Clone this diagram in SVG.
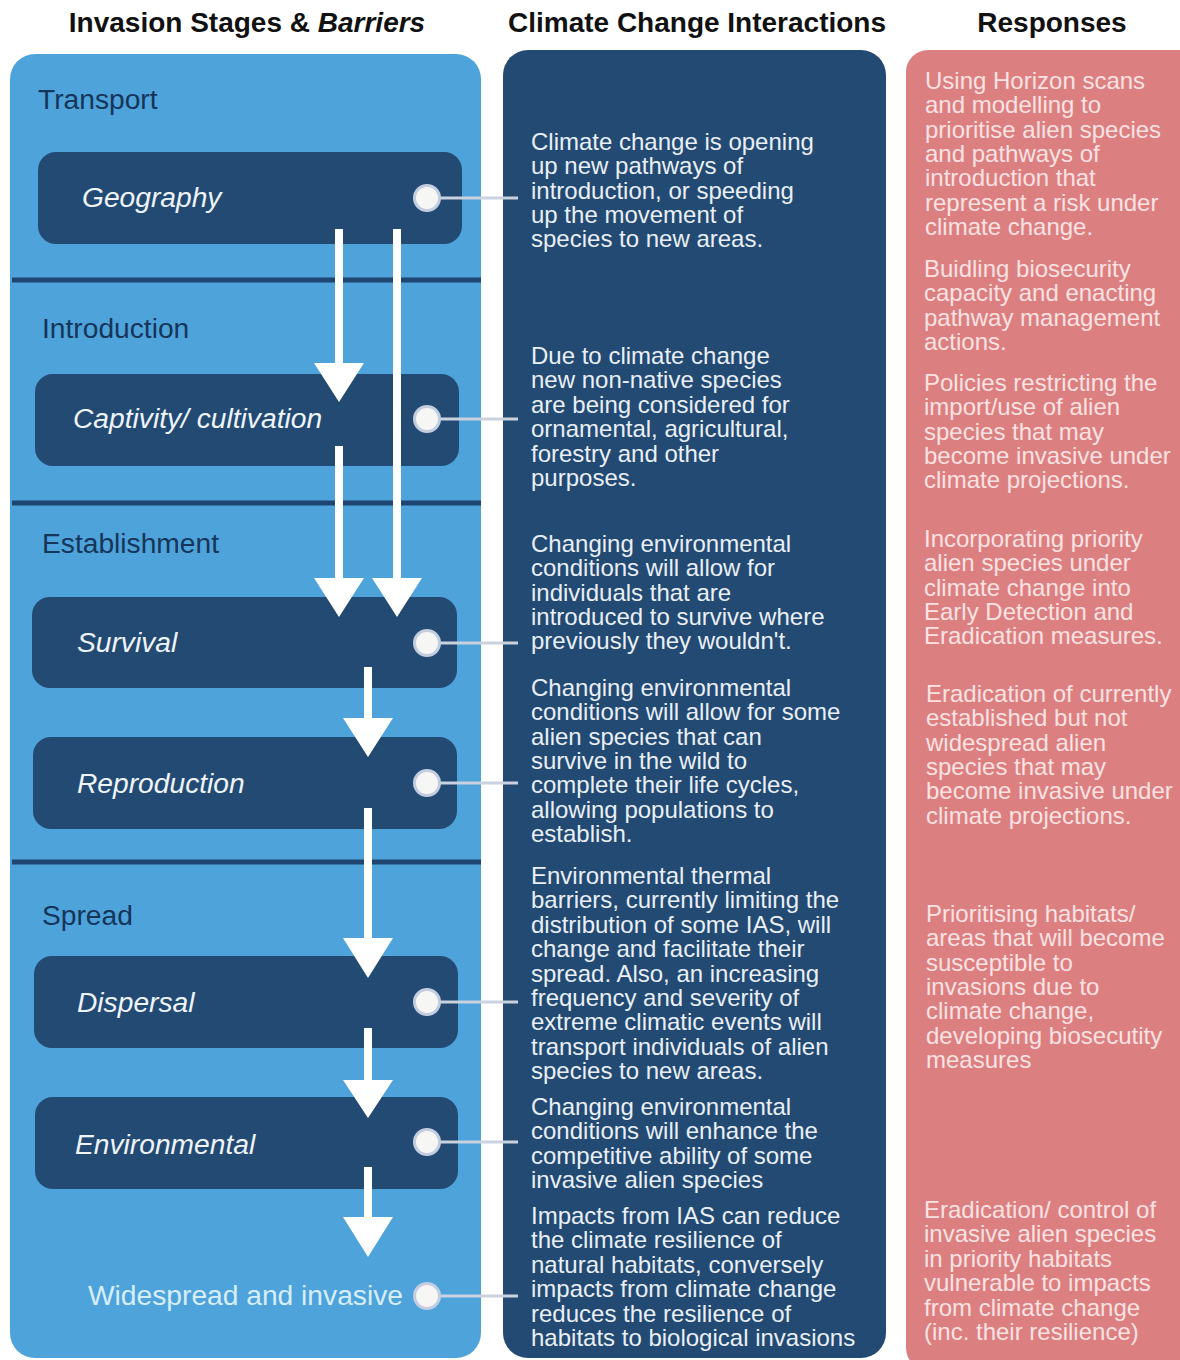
<svg xmlns="http://www.w3.org/2000/svg" width="1180" height="1360" viewBox="0 0 1180 1360">
<defs>
<style>
.hdr{font-family:"Liberation Sans",Arial,sans-serif;font-weight:bold;font-size:28px;fill:#111;text-anchor:middle}
.stage{font-family:"Liberation Sans",Arial,sans-serif;font-size:28.2px;fill:#16355a}
.box{fill:#234a72}
.lbl{font-family:"Liberation Sans",Arial,sans-serif;font-style:italic;font-size:28.2px;fill:#eef4fa}
.mid{font-family:"Liberation Sans",Arial,sans-serif;font-size:24px;fill:#e9eff6}
.resp{font-family:"Liberation Sans",Arial,sans-serif;font-size:24px;fill:#fbe2e2}
.div{stroke:#1f4670;stroke-width:5}
.con{stroke:#c9d2de;stroke-width:3;fill:none}
.dot{fill:#f6f6f4;stroke:#c3cde0;stroke-width:3}
.shaft{stroke:#ffffff;stroke-width:8}
.head{fill:#ffffff}
</style>
</defs>
<rect width="1180" height="1360" fill="#ffffff"/>
<g id="headers">
<text class="hdr" x="247" y="32">Invasion Stages &amp; <tspan font-style="italic">Barriers</tspan></text>
<text class="hdr" x="697" y="32">Climate Change Interactions</text>
<text class="hdr" x="1052" y="32">Responses</text>
</g>
<g id="panels">
<rect id="stages-panel" x="10" y="54" width="471" height="1304" rx="25" fill="#4ea3da"/>
<rect id="interactions-panel" x="503" y="50" width="383" height="1308" rx="25" fill="#234a72"/>
<rect id="responses-panel" x="906" y="50" width="300" height="1320" rx="22" fill="#dc7f80"/>
</g>
<g id="dividers">
<line class="div" x1="12" y1="280" x2="481" y2="280"/>
<line class="div" x1="12" y1="503" x2="481" y2="503"/>
<line class="div" x1="12" y1="862" x2="481" y2="862"/>
</g>
<g id="stage-labels">
<text class="stage" x="38" y="109">Transport</text>
<text class="stage" x="42" y="338">Introduction</text>
<text class="stage" x="42" y="553">Establishment</text>
<text class="stage" x="42" y="925">Spread</text>
</g>
<g id="node-geography"><rect class="box" x="38" y="152" width="424" height="92" rx="18"/><text class="lbl" x="82" y="207">Geography</text></g>
<g id="node-captivity"><rect class="box" x="35" y="374" width="424" height="92" rx="18"/><text class="lbl" x="73" y="428">Captivity/ cultivation</text></g>
<g id="node-survival"><rect class="box" x="32" y="597" width="425" height="91" rx="18"/><text class="lbl" x="77" y="652">Survival</text></g>
<g id="node-reproduction"><rect class="box" x="33" y="737" width="424" height="92" rx="18"/><text class="lbl" x="77" y="793">Reproduction</text></g>
<g id="node-dispersal"><rect class="box" x="34" y="956" width="424" height="92" rx="18"/><text class="lbl" x="77" y="1012">Dispersal</text></g>
<g id="node-environmental"><rect class="box" x="35" y="1097" width="423" height="92" rx="18"/><text class="lbl" x="75" y="1154">Environmental</text></g>
<g id="node-widespread"><text x="88" y="1305" font-family="'Liberation Sans',Arial,sans-serif" font-size="28.2" fill="#d6eefa">Widespread and invasive</text></g>
<g id="connectors">
<path class="shaft" d="M339 229V370M397 229V585M339 446V585M368 667V725M368 808V945M368 1028V1086M368 1167V1225"/>
<path class="head" d="M314 363H364L339 402ZM372 578H422L397 617ZM314 578H364L339 617ZM343 718H393L368 757ZM343 938H393L368 978ZM343 1080H393L368 1118ZM343 1217H393L368 1257Z"/>
<path class="con" d="M427 198H518M427 419H518M427 643H518M427 783H518M427 1002H518M427 1142H518M427 1296H518"/>
<circle class="dot" cx="427" cy="198" r="12.5"/>
<circle class="dot" cx="427" cy="419" r="12.5"/>
<circle class="dot" cx="427" cy="643" r="12.5"/>
<circle class="dot" cx="427" cy="783" r="12.5"/>
<circle class="dot" cx="427" cy="1002" r="12.5"/>
<circle class="dot" cx="427" cy="1142" r="12.5"/>
<circle class="dot" cx="427" cy="1296" r="12.5"/>
</g>
<g id="interactions">
<text class="mid" x="531" y="150"><tspan x="531">Climate change is opening</tspan><tspan x="531" dy="24.3">up new pathways of</tspan><tspan x="531" dy="24.3">introduction, or speeding</tspan><tspan x="531" dy="24.3">up the movement of</tspan><tspan x="531" dy="24.3">species to new areas.</tspan></text>
<text class="mid" x="531" y="364"><tspan x="531">Due to climate change</tspan><tspan x="531" dy="24.4">new non-native species</tspan><tspan x="531" dy="24.4">are being considered for</tspan><tspan x="531" dy="24.4">ornamental, agricultural,</tspan><tspan x="531" dy="24.4">forestry and other</tspan><tspan x="531" dy="24.4">purposes.</tspan></text>
<text class="mid" x="531" y="552"><tspan x="531">Changing environmental</tspan><tspan x="531" dy="24.3">conditions will allow for</tspan><tspan x="531" dy="24.3">individuals that are</tspan><tspan x="531" dy="24.3">introduced to survive where</tspan><tspan x="531" dy="24.3">previously they wouldn't.</tspan></text>
<text class="mid" x="531" y="696"><tspan x="531">Changing environmental</tspan><tspan x="531" dy="24.3">conditions will allow for some</tspan><tspan x="531" dy="24.3">alien species that can</tspan><tspan x="531" dy="24.3">survive in the wild to</tspan><tspan x="531" dy="24.3">complete their life cycles,</tspan><tspan x="531" dy="24.3">allowing populations to</tspan><tspan x="531" dy="24.3">establish.</tspan></text>
<text class="mid" x="531" y="884"><tspan x="531">Environmental thermal</tspan><tspan x="531" dy="24.4">barriers, currently limiting the</tspan><tspan x="531" dy="24.4">distribution of some IAS, will</tspan><tspan x="531" dy="24.4">change and facilitate their</tspan><tspan x="531" dy="24.4">spread. Also, an increasing</tspan><tspan x="531" dy="24.4">frequency and severity of</tspan><tspan x="531" dy="24.4">extreme climatic events will</tspan><tspan x="531" dy="24.4">transport individuals of alien</tspan><tspan x="531" dy="24.4">species to new areas.</tspan></text>
<text class="mid" x="531" y="1115"><tspan x="531">Changing environmental</tspan><tspan x="531" dy="24.3">conditions will enhance the</tspan><tspan x="531" dy="24.3">competitive ability of some</tspan><tspan x="531" dy="24.3">invasive alien species</tspan></text>
<text class="mid" x="531" y="1224"><tspan x="531">Impacts from IAS can reduce</tspan><tspan x="531" dy="24.4">the climate resilience of</tspan><tspan x="531" dy="24.4">natural habitats, conversely</tspan><tspan x="531" dy="24.4">impacts from climate change</tspan><tspan x="531" dy="24.4">reduces the resilience of</tspan><tspan x="531" dy="24.4">habitats to biological invasions</tspan></text>
</g>
<g id="responses">
<text class="resp" x="925" y="89"><tspan x="925">Using Horizon scans</tspan><tspan x="925" dy="24.3">and modelling to</tspan><tspan x="925" dy="24.3">prioritise alien species</tspan><tspan x="925" dy="24.3">and pathways of</tspan><tspan x="925" dy="24.3">introduction that</tspan><tspan x="925" dy="24.3">represent a risk under</tspan><tspan x="925" dy="24.3">climate change.</tspan></text>
<text class="resp" x="924" y="277"><tspan x="924">Buidling biosecurity</tspan><tspan x="924" dy="24.4">capacity and enacting</tspan><tspan x="924" dy="24.4">pathway management</tspan><tspan x="924" dy="24.4">actions.</tspan></text>
<text class="resp" x="924" y="391"><tspan x="924">Policies restricting the</tspan><tspan x="924" dy="24.3">import/use of alien</tspan><tspan x="924" dy="24.3">species that may</tspan><tspan x="924" dy="24.3">become invasive under</tspan><tspan x="924" dy="24.3">climate projections.</tspan></text>
<text class="resp" x="924" y="547"><tspan x="924">Incorporating priority</tspan><tspan x="924" dy="24.3">alien species under</tspan><tspan x="924" dy="24.3">climate change into</tspan><tspan x="924" dy="24.3">Early Detection and</tspan><tspan x="924" dy="24.3">Eradication measures.</tspan></text>
<text class="resp" x="926" y="702"><tspan x="926">Eradication of currently</tspan><tspan x="926" dy="24.3">established but not</tspan><tspan x="926" dy="24.3">widespread alien</tspan><tspan x="926" dy="24.3">species that may</tspan><tspan x="926" dy="24.3">become invasive under</tspan><tspan x="926" dy="24.3">climate projections.</tspan></text>
<text class="resp" x="926" y="922"><tspan x="926">Prioritising habitats/</tspan><tspan x="926" dy="24.3">areas that will become</tspan><tspan x="926" dy="24.3">susceptible to</tspan><tspan x="926" dy="24.3">invasions due to</tspan><tspan x="926" dy="24.3">climate change,</tspan><tspan x="926" dy="24.3">developing biosecutity</tspan><tspan x="926" dy="24.3">measures</tspan></text>
<text class="resp" x="924" y="1218"><tspan x="924">Eradication/ control of</tspan><tspan x="924" dy="24.4">invasive alien species</tspan><tspan x="924" dy="24.4">in priority habitats</tspan><tspan x="924" dy="24.4">vulnerable to impacts</tspan><tspan x="924" dy="24.4">from climate change</tspan><tspan x="924" dy="24.4">(inc. their resilience)</tspan></text>
</g>
</svg>
